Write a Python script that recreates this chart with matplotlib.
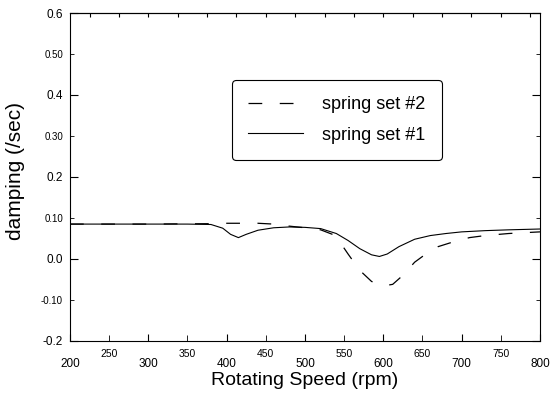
import matplotlib.pyplot as plt
import matplotlib
from matplotlib.ticker import MultipleLocator, FixedLocator, FixedFormatter

matplotlib.rcParams['font.family'] = ['Liberation Sans', 'DejaVu Sans']

# spring set #1 (solid)
rpm1 = [200, 250, 300, 350, 380, 395, 405, 415, 425, 440, 460, 480, 500, 520,
        540, 555, 570, 585, 595, 605, 620, 640, 660, 680, 700, 730, 760, 800]
damp1 = [0.085, 0.085, 0.085, 0.085, 0.084, 0.075, 0.060, 0.052, 0.060, 0.070,
         0.076, 0.078, 0.077, 0.074, 0.062, 0.045, 0.025, 0.010, 0.006, 0.012,
         0.030, 0.048, 0.057, 0.062, 0.066, 0.069, 0.071, 0.073]

# spring set #2 (dashed)
rpm2 = [200, 300, 380, 400, 420, 440, 460, 480, 500, 520, 535, 545, 555, 570,
        585, 600, 612, 625, 640, 655, 670, 690, 710, 730, 760, 800]
damp2 = [0.085, 0.085, 0.086, 0.087, 0.087, 0.087, 0.085, 0.080, 0.076, 0.071,
         0.060, 0.040, 0.012, -0.028, -0.055, -0.066, -0.062, -0.040, -0.008,
         0.013, 0.030, 0.042, 0.052, 0.057, 0.062, 0.066]

x_major = [200, 300, 400, 500, 600, 700, 800]
x_minor = [250, 350, 450, 550, 650, 750]
x_minor_labels = ['250', '350', '450', '550', '650', '750']
y_major = [-0.2, 0.0, 0.2, 0.4, 0.6]
y_major_labels = ['-0.2', '0.0', '0.2', '0.4', '0.6']
y_minor = [-0.1, 0.1, 0.3, 0.5]
y_minor_labels = ['-0.10', '0.10', '0.30', '0.50']

fig = plt.figure(figsize=(5.51, 3.95), dpi=100)
ax = fig.add_axes([0.127, 0.137, 0.853, 0.830])

ax.plot(rpm2, damp2, color='black', lw=0.9, dashes=(11, 14), label='spring set #2')
ax.plot(rpm1, damp1, color='black', lw=0.8, label='spring set #1')

ax.set_xlim(200, 800)
ax.set_ylim(-0.2, 0.6)

ax.xaxis.set_major_locator(FixedLocator(x_major))
ax.xaxis.set_minor_locator(FixedLocator(x_minor))
ax.xaxis.set_minor_formatter(FixedFormatter(x_minor_labels))
ax.yaxis.set_major_locator(FixedLocator(y_major))
ax.yaxis.set_major_formatter(FixedFormatter(y_major_labels))
ax.yaxis.set_minor_locator(FixedLocator(y_minor))
ax.yaxis.set_minor_formatter(FixedFormatter(y_minor_labels))

ax.tick_params(axis='x', which='major', direction='in', length=5, labelsize=8.5, pad=12.5)
ax.tick_params(axis='x', which='minor', direction='in', length=4, labelsize=7.5, pad=6)
ax.tick_params(axis='y', which='major', direction='in', length=6, labelsize=8.5, pad=5,
               right=True)
ax.tick_params(axis='y', which='minor', direction='in', length=3, labelsize=7, pad=5,
               right=True)

# small ticks along the top edge
top = ax.secondary_xaxis('top')
top.xaxis.set_major_locator(MultipleLocator(37.5))
top.tick_params(direction='in', length=3, labeltop=False)

ax.set_xlabel('Rotating Speed (rpm)', fontsize=14, labelpad=1)
ax.set_ylabel('damping (/sec)', fontsize=15)
ax.yaxis.set_label_coords(-0.096, 0.518)

leg = ax.legend(loc='upper left', bbox_to_anchor=(0.345, 0.796), borderaxespad=0,
                fontsize=13, handlelength=3.0, handletextpad=1.1, fancybox=True,
                edgecolor='black', framealpha=1, borderpad=0.9, labelspacing=0.75)
leg.get_frame().set_linewidth(0.8)

fig.savefig('out.png', dpi=100)
